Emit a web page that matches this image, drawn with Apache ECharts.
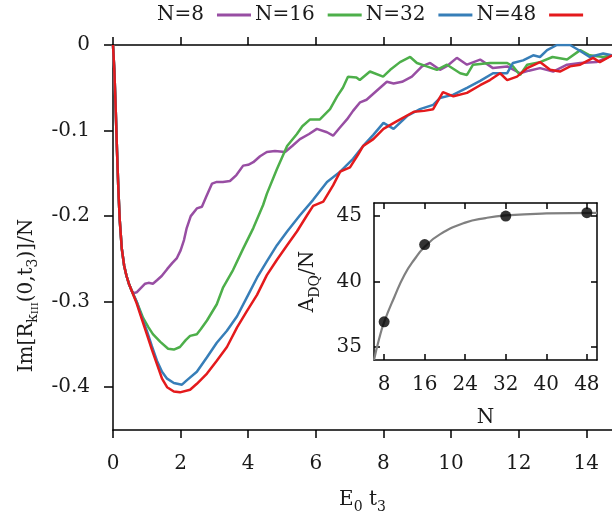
<!DOCTYPE html>
<html><head><meta charset="utf-8">
<script src="https://cdn.jsdelivr.net/npm/echarts@6/dist/echarts.min.js"></script>
<style>html,body{margin:0;padding:0;background:#fff}#c{width:612px;height:519px}</style>
</head><body><div id="c"></div>
<script>
const FONT = 'DejaVu Serif';
const seriesNames = ['N=8', 'N=16', 'N=32', 'N=48'];
const seriesColors = ['#984ea3', '#4daf4a', '#377eb8', '#e41a1c'];

// common initial drop (all N)
const tHead = [0, 0.04, 0.08, 0.12, 0.16, 0.2, 0.26, 0.33, 0.4, 0.47, 0.55];
const vHead = [0, -0.03, -0.075, -0.125, -0.17, -0.205, -0.238, -0.258, -0.27, -0.279, -0.287];

const tN8 = [0.62,0.7,0.8,0.95,1.05,1.18,1.3,1.44,1.6,1.75,1.89,2.0,2.1,2.18,2.3,2.48,2.63,2.75,2.93,3.07,3.25,3.46,3.65,3.85,4.0,4.15,4.35,4.55,4.79,5.09,5.3,5.53,5.8,6.03,6.33,6.51,6.7,6.92,7.1,7.31,7.5,7.9,8.1,8.3,8.55,8.84,9.14,9.38,9.67,9.9,10.17,10.47,10.86,11.24,11.66,12.04,12.3,12.63,13.02,13.43,13.82,14.3,14.76];
const vN8 = [-0.29,-0.289,-0.285,-0.279,-0.278,-0.279,-0.275,-0.27,-0.262,-0.255,-0.249,-0.24,-0.228,-0.214,-0.2,-0.191,-0.189,-0.178,-0.162,-0.16,-0.16,-0.159,-0.152,-0.141,-0.14,-0.137,-0.13,-0.125,-0.124,-0.125,-0.118,-0.11,-0.104,-0.098,-0.102,-0.106,-0.097,-0.087,-0.077,-0.067,-0.064,-0.05,-0.043,-0.045,-0.043,-0.037,-0.025,-0.021,-0.029,-0.024,-0.015,-0.023,-0.017,-0.027,-0.025,-0.033,-0.03,-0.027,-0.031,-0.023,-0.021,-0.02,-0.012];

const tN16 = [0.7,0.89,1.05,1.18,1.4,1.63,1.8,1.98,2.15,2.28,2.48,2.6,2.78,3.07,3.25,3.55,3.85,4.15,4.44,4.55,4.85,5.15,5.44,5.6,5.83,6.12,6.42,6.63,6.8,6.95,7.2,7.3,7.6,7.99,8.2,8.49,8.79,8.99,9.28,9.58,9.88,10.27,10.47,10.65,11.15,11.66,11.83,12.04,12.25,12.63,13.0,13.43,13.82,14.1,14.5,14.76];
const vN16 = [-0.3,-0.319,-0.33,-0.338,-0.347,-0.355,-0.356,-0.353,-0.345,-0.34,-0.338,-0.332,-0.322,-0.303,-0.284,-0.263,-0.238,-0.214,-0.187,-0.174,-0.145,-0.118,-0.104,-0.095,-0.087,-0.087,-0.075,-0.06,-0.05,-0.037,-0.038,-0.041,-0.031,-0.037,-0.029,-0.02,-0.014,-0.021,-0.025,-0.029,-0.023,-0.033,-0.035,-0.023,-0.021,-0.021,-0.025,-0.035,-0.023,-0.02,-0.014,-0.017,-0.006,-0.012,-0.014,-0.012];

const tN32 = [0.7,0.85,1.0,1.15,1.3,1.45,1.6,1.8,2.04,2.18,2.48,2.78,3.07,3.37,3.67,3.96,4.26,4.55,4.85,5.15,5.53,5.92,6.33,6.72,7.1,7.4,7.7,8.0,8.3,8.7,9.08,9.47,9.67,10.07,10.47,10.86,11.24,11.45,11.66,11.83,12.13,12.43,12.63,12.84,13.13,13.52,13.82,14.1,14.5,14.76];
const vN32 = [-0.3,-0.318,-0.334,-0.352,-0.369,-0.382,-0.39,-0.395,-0.397,-0.392,-0.382,-0.365,-0.348,-0.334,-0.317,-0.295,-0.272,-0.253,-0.234,-0.218,-0.199,-0.181,-0.16,-0.148,-0.133,-0.118,-0.105,-0.091,-0.098,-0.083,-0.075,-0.07,-0.062,-0.058,-0.05,-0.042,-0.033,-0.033,-0.033,-0.021,-0.018,-0.012,-0.014,-0.006,0,0,-0.007,-0.014,-0.01,-0.012];

const tN48 = [0.7,0.85,1.0,1.15,1.3,1.45,1.6,1.8,1.98,2.28,2.48,2.78,3.07,3.37,3.67,3.96,4.26,4.55,4.85,5.15,5.44,5.74,5.92,6.22,6.51,6.72,7.01,7.25,7.4,7.7,8.0,8.4,8.9,9.2,9.47,9.76,10.07,10.47,10.86,11.15,11.45,11.66,11.95,12.25,12.63,12.93,13.22,13.52,13.82,14.2,14.4,14.76];
const vN48 = [-0.302,-0.32,-0.338,-0.356,-0.373,-0.39,-0.4,-0.405,-0.406,-0.403,-0.396,-0.384,-0.369,-0.353,-0.33,-0.311,-0.292,-0.269,-0.251,-0.234,-0.218,-0.199,-0.188,-0.183,-0.164,-0.148,-0.143,-0.128,-0.118,-0.11,-0.098,-0.089,-0.078,-0.077,-0.075,-0.055,-0.06,-0.056,-0.047,-0.041,-0.033,-0.041,-0.037,-0.027,-0.02,-0.029,-0.031,-0.025,-0.023,-0.015,-0.02,-0.012];

// inset
const insetN = [8, 16, 32, 48];
const insetA = [36.92, 42.82, 45.0, 45.26];
const fitN = [6, 7, 8, 10, 12, 14, 16, 19, 24, 28, 32, 40, 50];
const fitA = [34.0, 35.6, 36.9, 38.8, 40.5, 41.7, 42.65, 43.6, 44.5, 44.85, 45.05, 45.2, 45.25];

const mainXTicks = [0, 2, 4, 6, 8, 10, 12, 14];
const mainYTicks = [-0.4, -0.3, -0.2, -0.1, 0];
const insetXTicks = [8, 16, 24, 32, 40, 48];
const insetYTicks = [35, 40, 45];

function zip(a, b) { return a.map((x, i) => [x, b[i]]); }
const curves = [
  zip(tHead.concat(tN8), vHead.concat(vN8)),
  zip(tHead.concat(tN16), vHead.concat(vN16)),
  zip(tHead.concat(tN32), vHead.concat(vN32)),
  zip(tHead.concat(tN48), vHead.concat(vN48))
];

const FS = 20;
const txt = { fontFamily: FONT, fontSize: FS, color: '#1a1a1a' };
const axLine = { onZero: false, lineStyle: { color: '#000', width: 1.5 } };
const tickStyle = { color: '#000', width: 1.5 };
const rich = {
  m: { fontFamily: FONT, fontSize: FS, color: '#1a1a1a', lineHeight: 28 },
  s: { fontFamily: FONT, fontSize: 14, color: '#1a1a1a', lineHeight: 14, verticalAlign: 'bottom' },
  ss: { fontFamily: FONT, fontSize: 10, color: '#1a1a1a', lineHeight: 6, verticalAlign: 'bottom' }
};

const chart = echarts.init(document.getElementById('c'), null, { renderer: 'canvas' });
chart.setOption({
  animation: false,
  backgroundColor: '#fff',
  legend: {
    data: seriesNames, left: 152, top: 0, align: 'right', icon: 'rect',
    itemWidth: 34, itemHeight: 3, itemGap: 4,
    textStyle: Object.assign({}, txt, { padding: [0, 8, 0, 0] })
  },
  grid: [
    { left: 113, top: 45, right: 0, bottom: 85 },
    { left: 374, top: 203, width: 223, height: 157, show: true, backgroundColor: '#fff', borderWidth: 0, z: 5 }
  ],
  xAxis: [
    { gridIndex: 0, type: 'value', min: 0, max: 14.76, position: 'bottom',
      axisLine: axLine, splitLine: { show: false },
      axisTick: { inside: false, length: 8, lineStyle: tickStyle, customValues: mainXTicks },
      axisLabel: Object.assign({}, txt, { margin: 24, customValues: mainXTicks }),
      name: '{m|E}{s|0}{m| t}{s|3}', nameLocation: 'middle', nameGap: 56,
      nameTextStyle: { rich: rich } },
    { gridIndex: 0, type: 'value', min: 0, max: 14.76, position: 'top',
      axisLine: axLine, splitLine: { show: false },
      axisTick: { inside: false, length: 8, lineStyle: tickStyle, customValues: mainXTicks },
      axisLabel: { show: false } },
    { gridIndex: 1, type: 'value', min: 6, max: 50, position: 'bottom',
      axisLine: axLine, splitLine: { show: false },
      axisTick: { inside: true, length: 6, lineStyle: tickStyle, customValues: insetXTicks },
      axisLabel: Object.assign({}, txt, { margin: 15, customValues: insetXTicks }),
      name: 'N', nameLocation: 'middle', nameGap: 48, nameTextStyle: txt, z: 6 },
    { gridIndex: 1, type: 'value', min: 6, max: 50, position: 'top',
      axisLine: axLine, splitLine: { show: false },
      axisTick: { inside: true, length: 6, lineStyle: tickStyle, customValues: insetXTicks },
      axisLabel: { show: false }, z: 6 }
  ],
  yAxis: [
    { gridIndex: 0, type: 'value', min: -0.45, max: 0, position: 'left',
      axisLine: Object.assign({ show: true }, axLine), splitLine: { show: false },
      axisTick: { show: true, inside: false, length: 9, lineStyle: tickStyle, customValues: mainYTicks },
      axisLabel: Object.assign({}, txt, { margin: 23, customValues: mainYTicks,
        formatter: v => (Math.abs(v) < 1e-9 ? '0' : v.toFixed(1)) }),
      name: '{m|Im[R}{s|k}{ss|III}{m|(0,t}{s|3}{m|)]/N}', nameLocation: 'middle', nameGap: 72, nameRotate: 90,
      nameTextStyle: { rich: rich, padding: [0, 116, 0, 0] } },
    { gridIndex: 1, type: 'value', min: 34, max: 46, position: 'left',
      axisLine: Object.assign({ show: true }, axLine), splitLine: { show: false },
      axisTick: { show: true, inside: true, length: 6, lineStyle: tickStyle, customValues: insetYTicks },
      axisLabel: Object.assign({}, txt, { margin: 12, customValues: insetYTicks }),
      name: '{m|A}{s|DQ}{m|/N}', nameLocation: 'middle', nameGap: 52, nameRotate: 90,
      nameTextStyle: { rich: rich }, z: 6 },
    { gridIndex: 1, type: 'value', min: 34, max: 46, position: 'right',
      axisLine: Object.assign({ show: true }, axLine), splitLine: { show: false },
      axisTick: { show: true, inside: true, length: 6, lineStyle: tickStyle, customValues: insetYTicks },
      axisLabel: { show: false }, z: 6 }
  ],
  series: seriesNames.map((n, i) => ({
    name: n, type: 'line', xAxisIndex: 0, yAxisIndex: 0, data: curves[i],
    symbol: 'none', showSymbol: false, color: seriesColors[i],
    lineStyle: { color: seriesColors[i], width: 2.5 }, z: 2 + i * 0.1
  })).concat([
    { name: 'fit', type: 'line', xAxisIndex: 2, yAxisIndex: 1, data: zip(fitN, fitA), smooth: true,
      symbol: 'none', lineStyle: { color: '#808080', width: 2.2 }, color: '#808080', z: 7 },
    { name: 'A', type: 'scatter', xAxisIndex: 2, yAxisIndex: 1, data: zip(insetN, insetA),
      symbol: 'circle', symbolSize: 11, itemStyle: { color: '#000' }, z: 8 }
  ])
});
</script>
</body></html>
